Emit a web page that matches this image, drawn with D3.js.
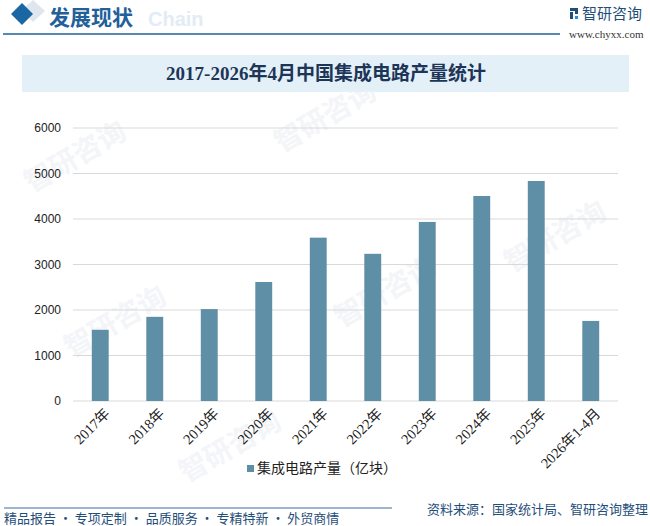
<!DOCTYPE html>
<html>
<head>
<meta charset="utf-8">
<script src="https://cdn.jsdelivr.net/npm/d3@7"></script>
<style>
  body { margin: 0; background: #fff; }
  svg { display: block; }
</style>
</head>
<body>
<div id="chart"></div>
<script>
// chart data
const categories = ['2017年', '2018年', '2019年', '2020年', '2021年', '2022年', '2023年', '2024年', '2025年', '2026年1-4月']
const output = [1565, 1850, 2020, 2615, 3590, 3235, 3935, 4505, 4835, 1760]
const yTicks = [0, 1000, 2000, 3000, 4000, 5000, 6000]
const seriesName = '集成电路产量（亿块）'
const chartTitle = '2017-2026年4月中国集成电路产量统计'

const W = 650
const H = 526
const margin = { top: 128, right: 32, bottom: 125, left: 73 }
const cjk = '"Noto Sans CJK SC", sans-serif'
const serif = '"Liberation Serif", "Noto Sans CJK SC", serif'
const navy = '#1f4e79'

const svg = d3.select('#chart')
  .append('svg')
  .attr('width', W)
  .attr('height', H)

// faint watermarks
const marks = [[80, 165], [330, 125], [120, 330], [390, 300], [235, 455], [560, 245]]
svg.selectAll('text.wm')
  .data(marks)
  .enter()
  .append('text')
  .attr('class', 'wm')
  .attr('transform', function (d) { return 'translate(' + d[0] + ',' + d[1] + ') rotate(-30)' })
  .attr('text-anchor', 'middle')
  .style('font-family', cjk)
  .style('font-size', '28px')
  .style('font-weight', 'bold')
  .style('fill', '#f3f5f8')
  .text('智研咨询')

// header
svg.append('text')
  .attr('x', 148)
  .attr('y', 26)
  .style('font-family', '"Liberation Sans", Arial, sans-serif')
  .style('font-size', '20px')
  .style('font-weight', 'bold')
  .style('fill', '#e3ecf5')
  .text('Chain')

svg.append('path')
  .attr('d', 'M33,0 L45,11 L33,22 L21,11 Z')
  .style('fill', '#dfe6ed')
svg.append('path')
  .attr('d', 'M22,3 L33,14 L22,25 L11,14 Z')
  .style('fill', '#1a67a3')

svg.append('text')
  .attr('x', 49)
  .attr('y', 25)
  .style('font-family', cjk)
  .style('font-size', '21px')
  .style('font-weight', 'bold')
  .style('fill', '#22609a')
  .text('发展现状')

svg.append('line')
  .attr('x1', 3).attr('x2', 560)
  .attr('y1', 34).attr('y2', 34)
  .style('stroke', '#1f5f99')
  .style('stroke-width', 1.5)

// logo
const logo = svg.append('g').attr('transform', 'translate(570,8)')
logo.append('rect').attr('x', 0).attr('y', 0).attr('width', 8).attr('height', 3).style('fill', '#1f4e79')
logo.append('rect').attr('x', 5).attr('y', 0).attr('width', 3).attr('height', 6).style('fill', '#1f4e79')
logo.append('rect').attr('x', 0).attr('y', 4).attr('width', 3).attr('height', 7).style('fill', '#1f4e79')
logo.append('rect').attr('x', 5).attr('y', 8).attr('width', 3).attr('height', 3).style('fill', '#2a8fd6')
svg.append('text')
  .attr('x', 582)
  .attr('y', 19)
  .style('font-family', cjk)
  .style('font-size', '15px')
  .style('fill', navy)
  .text('智研咨询')
svg.append('text')
  .attr('x', 569)
  .attr('y', 38)
  .style('font-family', serif)
  .style('font-size', '11px')
  .style('fill', '#333')
  .text('www.chyxx.com')

// title box
svg.append('rect')
  .attr('x', 22)
  .attr('y', 55)
  .attr('width', 607)
  .attr('height', 37)
  .style('fill', '#e3f0f8')
svg.append('text')
  .attr('x', 326)
  .attr('y', 80)
  .attr('text-anchor', 'middle')
  .style('font-family', serif)
  .style('font-size', '19px')
  .style('font-weight', 'bold')
  .style('fill', '#1d3557')
  .text(chartTitle)

// scales
const x = d3.scaleBand()
  .domain(categories)
  .range([margin.left, W - margin.right])
  .paddingInner(0.69)
  .paddingOuter(0.345)

const y = d3.scaleLinear()
  .domain([0, 6000])
  .range([H - margin.bottom, margin.top])

// gridlines
svg.append('g')
  .selectAll('line')
  .data(yTicks)
  .enter()
  .append('line')
  .attr('x1', margin.left)
  .attr('x2', W - margin.right)
  .attr('y1', function (d) { return y(d) })
  .attr('y2', function (d) { return y(d) })
  .style('stroke', '#d9d9d9')
  .style('stroke-width', 1)

// y axis labels
const yAxis = svg.append('g')
  .attr('transform', 'translate(' + (margin.left - 12) + ',0)')
  .call(d3.axisLeft(y).tickValues(yTicks).tickFormat(d3.format('d')).tickSize(0).tickPadding(0))
yAxis.select('.domain').remove()
yAxis.selectAll('text')
  .style('font-family', '"Liberation Sans", Arial, sans-serif')
  .style('font-size', '12px')
  .style('fill', '#222')

// bars
svg.append('g')
  .selectAll('rect')
  .data(output)
  .enter()
  .append('rect')
  .attr('x', function (d, i) { return x(categories[i]) })
  .attr('y', function (d) { return y(d) })
  .attr('width', x.bandwidth())
  .attr('height', function (d) { return y(0) - y(d) })
  .style('fill', '#5e8fa6')

// x axis labels
const xAxis = svg.append('g')
  .attr('transform', 'translate(0,' + (H - margin.bottom) + ')')
  .call(d3.axisBottom(x).tickSize(0).tickPadding(0))
xAxis.select('.domain').remove()
xAxis.selectAll('text')
  .attr('text-anchor', 'end')
  .attr('dy', '0.35em')
  .attr('transform', 'translate(7,10) rotate(-45)')
  .style('font-family', serif)
  .style('font-size', '14.5px')
  .style('fill', '#222')

// legend
const legend = svg.append('g').attr('transform', 'translate(247,465)')
legend.append('rect')
  .attr('width', 7)
  .attr('height', 7)
  .style('fill', '#5e8fa6')
legend.append('text')
  .attr('x', 10)
  .attr('y', 8)
  .style('font-family', cjk)
  .style('font-size', '14px')
  .style('fill', '#222')
  .text(seriesName)

// footer
svg.append('line')
  .attr('x1', 4).attr('x2', 392)
  .attr('y1', 508).attr('y2', 508)
  .style('stroke', '#3a6ea5')
  .style('stroke-width', 1)
svg.append('text')
  .attr('x', 4)
  .attr('y', 523)
  .style('font-family', cjk)
  .style('font-size', '13px')
  .style('fill', navy)
  .text('精品报告 · 专项定制 · 品质服务 · 专精特新 · 外贸商情')
svg.append('text')
  .attr('x', 648)
  .attr('y', 514)
  .attr('text-anchor', 'end')
  .style('font-family', cjk)
  .style('font-size', '13px')
  .style('fill', navy)
  .text('资料来源：国家统计局、智研咨询整理')
</script>
</body>
</html>
